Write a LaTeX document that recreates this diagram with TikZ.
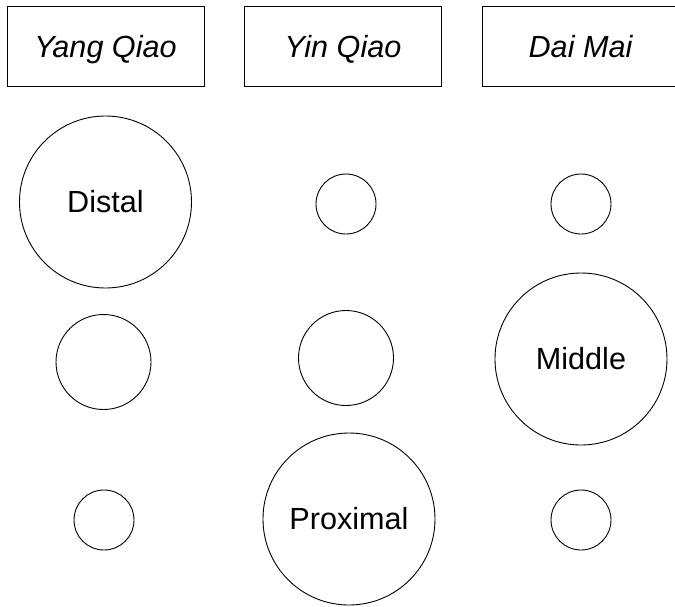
\documentclass[tikz,border=0pt]{standalone}
\usepackage{fontspec}
\setmainfont{Liberation Sans}
\begin{document}
\begin{tikzpicture}[x=1pt,y=-1pt,
  hdr/.style={draw=black,line width=1pt,rectangle,minimum width=197pt,minimum height=80pt,inner sep=0pt,text depth=0pt,font=\fontsize{30.6pt}{35pt}\selectfont\itshape},
  bigc/.style={draw=black,line width=0.9pt,circle,minimum size=172pt,inner sep=0pt,font=\fontsize{30.6pt}{35pt}\selectfont},
  midc/.style={draw=black,line width=0.9pt,circle,minimum size=95pt,inner sep=0pt},
  smallc/.style={draw=black,line width=0.9pt,circle,minimum size=60pt,inner sep=0pt}]
\useasboundingbox (0,0) rectangle (675,606);
\node[hdr] (yang) at (105.5,46) {Yang Qiao};
\node[hdr] (yin) at (343,46) {Yin Qiao};
\node[hdr] (dai) at (580.5,46) {Dai Mai};
\node[bigc] (distal) at (105.5,202) {Distal};
\node[smallc] (c12) at (346,204) {};
\node[smallc] (c13) at (581,204) {};
\node[midc] (c21) at (103.5,362) {};
\node[midc] (c22) at (346,358) {};
\node[bigc] (middle) at (581,359) {Middle};
\node[smallc] (c31) at (104,520) {};
\node[bigc] (proximal) at (349,519) {Proximal};
\node[smallc] (c33) at (581,520) {};
\end{tikzpicture}
\end{document}
